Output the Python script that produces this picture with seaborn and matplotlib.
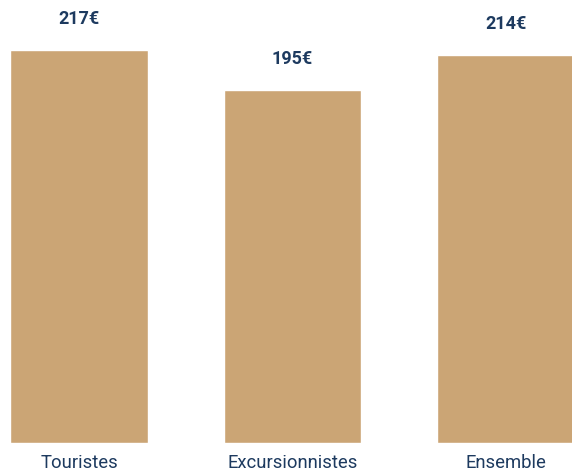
import matplotlib
matplotlib.use("Agg")
import matplotlib.pyplot as plt
import seaborn as sns
import pandas as pd

# Données du graphique
categories = ["Touristes", "Excursionnistes", "Ensemble"]
valeurs = [217, 195, 214]

BAR_COLOR = "#CBA575"
TEXT_COLOR = "#1D3A5F"


def main() -> None:
	sns.set_theme(style="white")
	plt.rcParams["font.family"] = ["Roboto", "DejaVu Sans"]

	df = pd.DataFrame({"categorie": categories, "valeur": valeurs})

	fig = plt.figure(figsize=(5.72, 4.73), dpi=100)
	ax = fig.add_axes([0, 30 / 473, 1, 443 / 473])

	sns.barplot(data=df, x="categorie", y="valeur", color=BAR_COLOR,
				width=0.646, saturation=1, ax=ax)

	ax.set_xlim(-0.370, 2.309)
	ax.set_ylim(0, 244.6)

	# Étiquettes de valeur au-dessus des barres
	for i, v in enumerate(valeurs):
		ax.annotate(f"{v}€", xy=(i, v), xytext=(0, 22.5), textcoords="offset points",
					ha="center", va="center", fontsize=13, fontweight="bold",
					color=TEXT_COLOR)

	ax.set_xlabel("")
	ax.set_ylabel("")
	ax.set_yticks([])
	ax.tick_params(axis="x", length=0, pad=8, labelsize=13.3, labelcolor=TEXT_COLOR)
	for s in ax.spines.values():
		s.set_visible(False)

	fig.savefig("out.png", dpi=100)
	plt.close(fig)


if __name__ == "__main__":
	main()
